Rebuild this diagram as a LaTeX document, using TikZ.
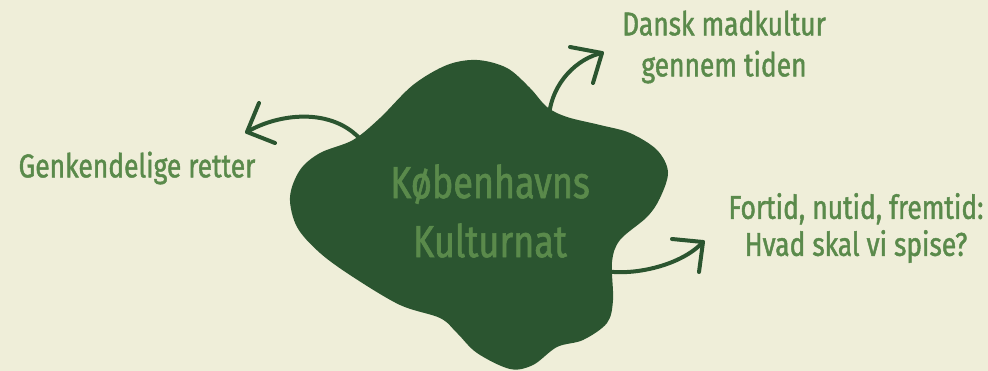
\documentclass[tikz,border=0pt]{standalone}
\usepackage{fontspec}
\newfontfamily\labelfont[FakeStretch=0.8,FakeBold=1.3]{Fira Sans}
\definecolor{creme}{HTML}{EFEED9}
\definecolor{mosgroen}{HTML}{2B5530}
\definecolor{bladgroen}{HTML}{5A8A4B}

\begin{document}
\begin{tikzpicture}[x=1pt,y=-1pt,
    every node/.style={text=bladgroen,inner sep=0pt,align=center},
    pil/.style={mosgroen,line width=4pt,line cap=round,line join=round},
    emne/.style={font=\labelfont\fontsize{33}{41}\selectfont},
    titel/.style={font=\labelfont\fontsize{45}{59}\selectfont}
  ]
  \fill[creme] (0,0) rectangle (988,371);
  \useasboundingbox (0,0) rectangle (988,371);

  % pile (start under klatten)
  \coordinate (retterStart) at (362,141);
  \coordinate (retterSpids) at (247,132);
  \coordinate (madStart) at (549,116);
  \coordinate (madSpids) at (602,53);
  \coordinate (fremtidStart) at (605,271);
  \coordinate (fremtidSpids) at (703,242);

  \draw[pil] (retterStart) .. controls (332,106) and (277,114) .. (retterSpids);
  \draw[pil] (259,103) -- (retterSpids) -- (275,143);
  \draw[pil] (madStart) .. controls (552,82) and (578,58) .. (madSpids);
  \draw[pil] (570,47) -- (madSpids) -- (593,83);
  \draw[pil] (fremtidStart) .. controls (635,276) and (682,265) .. (fremtidSpids);
  \draw[pil] (672,239) -- (fremtidSpids) -- (699,272);

  % klatten
  \fill[mosgroen] plot[smooth cycle,tension=0.55] coordinates {
    (477,60) (507,68) (530,88) (547,107) (567,117) (600,125) (630,133)
    (657,150) (668,172) (660,198) (647,217) (620,240) (612,262) (613,300)
    (607,323) (583,340) (557,347) (533,365) (510,369) (477,353) (457,333)
    (440,318) (400,305) (353,277) (320,253) (297,227) (290,197) (300,170)
    (320,153) (353,140) (380,118) (413,85) (447,65)};

  \node[titel] (kulturnat) at (490,211) {Københavns\\Kulturnat};
  \node[emne] (madkultur) at (724,47) {Dansk madkultur\\gennem tiden};
  \node[emne,font=\labelfont\fontsize{33}{37}\selectfont] (fremtid) at (856,228) {Fortid, nutid, fremtid:\\Hvad skal vi spise?};
  \node[emne] (retter) at (137,168) {Genkendelige retter};
\end{tikzpicture}
\end{document}
